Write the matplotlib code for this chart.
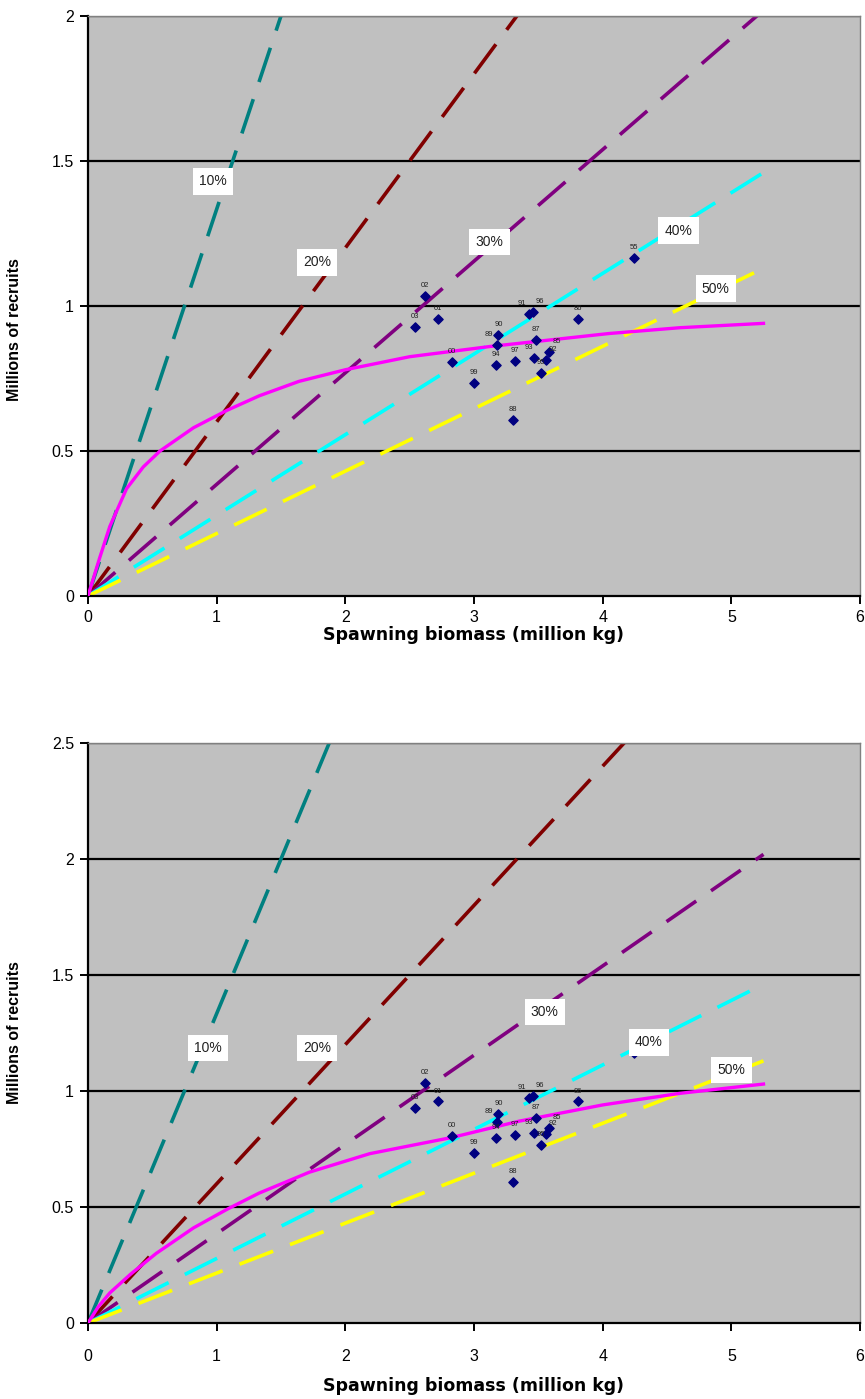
import matplotlib
matplotlib.use("Agg")
import matplotlib.pyplot as plt

plt.rcParams['font.family'] = ['Liberation Sans', 'DejaVu Sans']

# replacement lines (% of unfished spawning per recruit), drawn from origin to last biomass
pct_names = ["10%", "20%", "30%", "40%", "50%"]
pct_colors = ["#008080", "#800000", "#800080", "#00FFFF", "#FFFF00"]
line_x = [0, 5.25]
line_y_end = [7.0, 3.15, 2.02, 1.46, 1.13]

# observed recruitment vs spawning biomass
obs_x = [2.62, 2.54, 2.72, 2.83, 3.00, 3.30, 3.19, 3.18, 3.17, 3.32,
         3.43, 3.46, 3.48, 3.47, 3.56, 3.52, 3.58, 3.81, 4.24]
obs_y = [1.034, 0.927, 0.955, 0.806, 0.734, 0.607, 0.90, 0.865, 0.797, 0.81,
         0.972, 0.98, 0.883, 0.82, 0.814, 0.768, 0.84, 0.955, 1.165]
obs_lab = ["02", "03", "01", "00", "99", "88", "90", "89", "94", "97",
           "91", "96", "87", "93", "92", "95", "85", "86", "55"]

# fitted stock-recruit curves
top_curve_x = [0, 0.09, 0.17, 0.30, 0.43, 0.56, 0.82, 1.08, 1.33, 1.64,
               2.0, 2.5, 3.12, 4.05, 4.6, 5.25]
top_curve_y = [0, 0.13, 0.24, 0.37, 0.445, 0.50, 0.58, 0.64, 0.69, 0.74,
               0.78, 0.825, 0.86, 0.905, 0.925, 0.94]
bot_curve_x = [0, 0.08, 0.17, 0.33, 0.53, 0.82, 1.08, 1.33, 1.72, 2.19,
               2.83, 3.35, 4.0, 4.6, 5.25]
bot_curve_y = [0, 0.07, 0.13, 0.21, 0.30, 0.41, 0.49, 0.56, 0.65, 0.73,
               0.80, 0.87, 0.94, 0.99, 1.03]

top_lab_pos = [(0.97, 1.43), (1.78, 1.15), (3.12, 1.22), (4.59, 1.26), (4.88, 1.06)]
bot_lab_pos = [(0.93, 1.185), (1.78, 1.185), (3.55, 1.34), (4.36, 1.21), (5.0, 1.09)]

# small sideways nudges so crowded year labels don't sit on top of each other
lab_dx = {"91": -5, "96": 5, "93": -4, "92": 5, "85": 6, "89": -6}

fig = plt.figure(figsize=(8.65, 13.99), dpi=100)
ax_top = fig.add_axes([0.1017, 0.574, 0.8925, 0.4146])
ax_bot = fig.add_axes([0.1017, 0.0543, 0.8925, 0.4146])


def draw_panel(ax, curve_x, curve_y, lab_pos, ymax, xpad, xlabpad, ylab_y):
    ax.set_facecolor("#C0C0C0")
    ax.set_xlim(0, 6)
    ax.set_ylim(0, ymax)
    yt = [i * 0.5 for i in range(int(ymax / 0.5) + 1)]
    ax.set_yticks(yt)
    ax.set_yticklabels([f"{v:g}" for v in yt])
    ax.set_xticks(range(7))
    for v in yt[1:]:
        ax.axhline(v, color="black", lw=1.6, zorder=1)

    for yend, col in zip(line_y_end, pct_colors):
        ax.plot(line_x, [0, yend], color=col, lw=2.6, dashes=(10, 5),
                dash_capstyle="butt", zorder=2)
    ax.plot(curve_x, curve_y, color="#FF00FF", lw=2.4, zorder=3)

    ax.scatter(obs_x, obs_y, marker="D", s=22, color="#000080", zorder=4)
    for x, y, t in zip(obs_x, obs_y, obs_lab):
        ax.annotate(t, (x, y), xytext=(lab_dx.get(t, 0), 5),
                    textcoords="offset points", ha="center", va="bottom",
                    fontsize=5.5, color="#222222", zorder=5)

    for (lx, ly), name in zip(lab_pos, pct_names):
        ax.text(lx, ly, name, ha="center", va="center", fontsize=10,
                color="#222222", zorder=6,
                bbox=dict(boxstyle="square,pad=0.45", fc="white", ec="none"))

    for side in ["top", "right"]:
        ax.spines[side].set_color("#808080")
        ax.spines[side].set_linewidth(1.0)
    for side in ["left", "bottom"]:
        ax.spines[side].set_color("black")
        ax.spines[side].set_linewidth(1.6)
    ax.tick_params(direction="out", length=6, width=1.4, labelsize=11.5,
                   colors="black", pad=4)
    ax.tick_params(axis="x", pad=xpad)
    ax.set_xlabel("Spawning biomass (million kg)", fontsize=12.5,
                  fontweight="bold", family=["DejaVu Sans"], labelpad=xlabpad)
    ax.set_ylabel("Millions of recruits", fontsize=11.5, fontweight="bold")
    ax.yaxis.set_label_coords(-0.085, ylab_y)


draw_panel(ax_top, top_curve_x, top_curve_y, top_lab_pos, 2.0, 4, 1, 0.46)
draw_panel(ax_bot, bot_curve_x, bot_curve_y, bot_lab_pos, 2.5, 13, 9, 0.5)

fig.savefig("out.png", dpi=100)
